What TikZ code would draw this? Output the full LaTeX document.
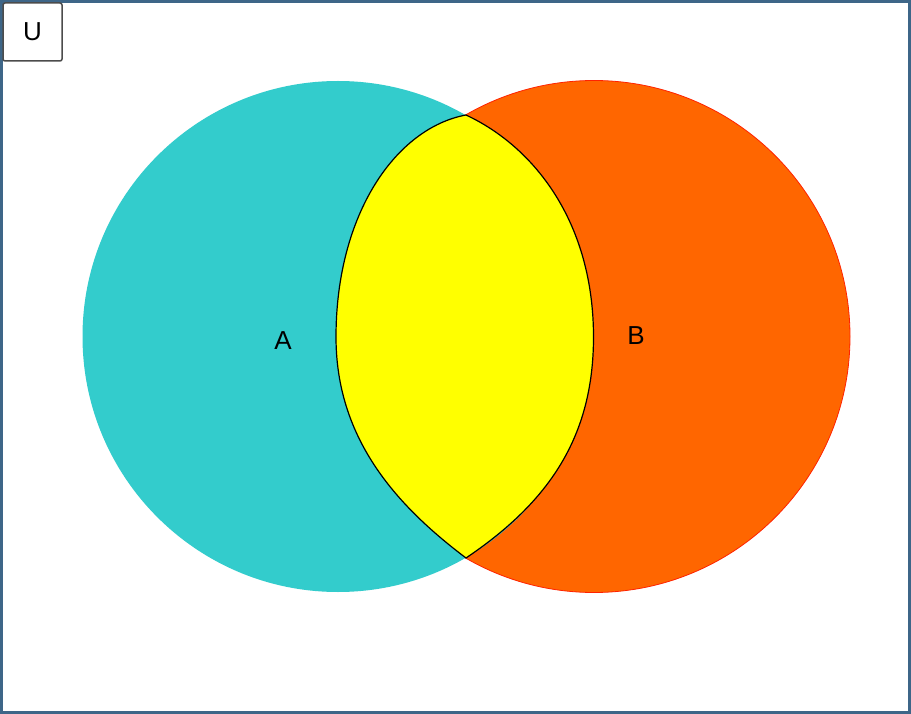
\documentclass[tikz,border=0pt]{standalone}
\usepackage{fontspec}
\setmainfont{Liberation Sans}
\definecolor{cyanA}{HTML}{33CCCC}
\definecolor{orangeB}{HTML}{FF6600}
\definecolor{edgeB}{HTML}{FF2200}
\definecolor{lensY}{HTML}{FFFF00}
\definecolor{frameblue}{HTML}{3E6688}
\begin{document}
\begin{tikzpicture}[x=1pt,y=-1pt,
  lbl/.style={font=\fontsize{26}{28}\selectfont, inner sep=0pt}]
\useasboundingbox (0,0) rectangle (911,714);
\fill[white] (0,0) rectangle (911,714);
\draw[frameblue, line width=3pt] (1.5,1.5) rectangle (909.5,712.5);
% circles
\coordinate (ca) at (338,336.5);
\coordinate (cb) at (594,336.5);
\fill[orangeB] (cb) circle (256);
\draw[edgeB, line width=0.8pt] (cb) circle (256);
\fill[cyanA] (ca) circle (255.5);
% lens
\coordinate (top) at (466,115);
\coordinate (lm) at (336,337);
\coordinate (bot) at (466,558);
\coordinate (rm) at (593.5,337);
\draw[black, line width=1.2pt, fill=lensY]
  (top) .. controls (396,128) and (336,214) .. (lm)
        .. controls (336,437) and (394.1,503.8) .. (bot)
        .. controls (548.9,502.1) and (593.5,437) .. (rm)
        .. controls (593.5,222) and (534,146.7) .. (top) -- cycle;
% labels
\node[lbl] (a) at (283,341) {A};
\node[lbl] (b) at (636,336) {B};
% U box
\node[draw=gray!60!black, line width=1.5pt, rounded corners=2pt, fill=white,
  minimum width=59pt, minimum height=58pt, lbl] (u) at (32.5,32) {U};
\end{tikzpicture}
\end{document}
